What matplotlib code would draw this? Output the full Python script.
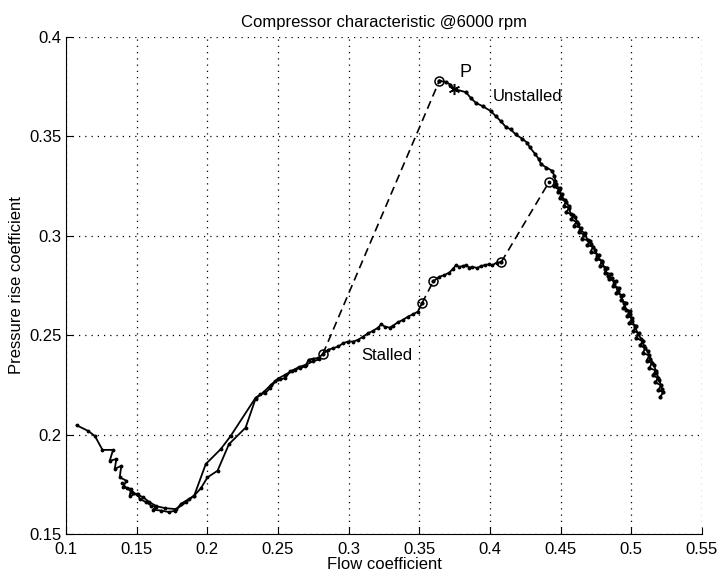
import matplotlib
matplotlib.use("Agg")
import matplotlib.pyplot as plt

plt.rcParams['font.family'] = ['Liberation Sans', 'DejaVu Sans']

# stalled branch, first pass (left end -> minimum -> up to the stall circle)
stalled_x = [0.1075, 0.1157, 0.1204, 0.1258, 0.1333, 0.1309, 0.1356, 0.1345, 0.1391,
             0.1380, 0.1427, 0.1403, 0.1462, 0.1450, 0.1509, 0.1520, 0.1567, 0.1602,
             0.1638, 0.1614, 0.1673, 0.1731, 0.1773, 0.1814, 0.1872, 0.1907,
             0.1989, 0.2095, 0.2165, 0.2341,
             0.2376, 0.2411, 0.2446, 0.2482, 0.2517, 0.2552, 0.2587, 0.2622, 0.2658,
             0.2693, 0.2716, 0.2751, 0.2786, 0.2817,
             0.2857, 0.2892, 0.2927, 0.2962, 0.2997, 0.3032, 0.3068, 0.3103, 0.3138,
             0.3173, 0.3208, 0.3231, 0.3255, 0.3290, 0.3314, 0.3349, 0.3384, 0.3419,
             0.3454, 0.3489, 0.3518]
stalled_y = [0.2047, 0.2018, 0.1993, 0.1923, 0.1923, 0.1868, 0.1877, 0.1827, 0.1843,
             0.1785, 0.1768, 0.1735, 0.1727, 0.1693, 0.1702, 0.1677, 0.1660, 0.1643,
             0.1635, 0.1622, 0.1618, 0.1610, 0.1618, 0.1652, 0.1677, 0.1693,
             0.1852, 0.1927, 0.1993, 0.2185,
             0.2202, 0.2210, 0.2235, 0.2268, 0.2277, 0.2285, 0.2318, 0.2327, 0.2335,
             0.2343, 0.2377, 0.2382, 0.2385, 0.2405,
             0.2427, 0.2435, 0.2443, 0.2460, 0.2468, 0.2468, 0.2477, 0.2493, 0.2510,
             0.2522, 0.2538, 0.2555, 0.2543, 0.2538, 0.2548, 0.2565, 0.2577, 0.2593,
             0.2605, 0.2618, 0.2660]

# stalled branch, second pass (the loop between 0.19 and 0.28)
stalled2_x = [0.2790, 0.2745, 0.2700, 0.2650, 0.2600, 0.2550, 0.2500, 0.2450, 0.2400,
              0.2341, 0.2271, 0.2153, 0.2072, 0.2001, 0.1954, 0.1907, 0.1850, 0.1780,
              0.1700, 0.1640, 0.1590, 0.1545, 0.1500, 0.1465, 0.1430, 0.1398]
stalled2_y = [0.2378, 0.2368, 0.2352, 0.2340, 0.2322, 0.2300, 0.2282, 0.2250, 0.2215,
              0.2180, 0.2035, 0.1952, 0.1818, 0.1785, 0.1730, 0.1693, 0.1660, 0.1625,
              0.1630, 0.1640, 0.1660, 0.1685, 0.1700, 0.1712, 0.1730, 0.1755]

# stalled branch after the jump at phi ~ 0.36
stalled3_x = [0.3600, 0.3642, 0.3677, 0.3712, 0.3736, 0.3759, 0.3783, 0.3806, 0.3829,
              0.3853, 0.3876, 0.3911, 0.3935, 0.3963, 0.3994, 0.4017, 0.4047, 0.4080]
stalled3_y = [0.2772, 0.2794, 0.2802, 0.2815, 0.2832, 0.2852, 0.2843, 0.2848, 0.2852,
              0.2840, 0.2843, 0.2838, 0.2848, 0.2852, 0.2857, 0.2852, 0.2865, 0.2868]

# unstalled branch, from the peak circle down to the choke end
unstalled_x = [0.3642, 0.3690, 0.3720, 0.3747, 0.3829, 0.3864, 0.3900, 0.3947, 0.4005,
               0.4040, 0.4075, 0.4111, 0.4146, 0.4181, 0.4228, 0.4263, 0.4282, 0.4321,
               0.4345, 0.4361, 0.4399, 0.4439, 0.4455, 0.4462,
               0.4470, 0.4452, 0.4495, 0.4478, 0.4512, 0.4492, 0.4538, 0.4522, 0.4560,
               0.4540, 0.4590, 0.4575, 0.4612, 0.4592, 0.4645, 0.4628, 0.4668, 0.4648,
               0.4705, 0.4688, 0.4730, 0.4712, 0.4768, 0.4750, 0.4795, 0.4778, 0.4830,
               0.4812, 0.4858, 0.4840, 0.4890, 0.4872, 0.4912, 0.4895, 0.4942, 0.4925,
               0.4962, 0.4942, 0.4990, 0.4970, 0.5005, 0.4985, 0.5035, 0.5015, 0.5052,
               0.5032, 0.5082, 0.5062, 0.5100, 0.5080, 0.5128, 0.5108, 0.5145, 0.5128,
               0.5172, 0.5152, 0.5188, 0.5170, 0.5210, 0.5192, 0.5225, 0.5205]
unstalled_y = [0.3780, 0.3772, 0.3760, 0.3738, 0.3722, 0.3693, 0.3668, 0.3652, 0.3627,
               0.3602, 0.3577, 0.3548, 0.3535, 0.3510, 0.3488, 0.3468, 0.3444, 0.3410,
               0.3385, 0.3360, 0.3343, 0.3327, 0.3302, 0.3277,
               0.3262, 0.3255, 0.3240, 0.3221, 0.3210, 0.3188, 0.3172, 0.3150, 0.3140,
               0.3118, 0.3105, 0.3082, 0.3070, 0.3050, 0.3040, 0.3018, 0.3005, 0.2985,
               0.2975, 0.2952, 0.2945, 0.2920, 0.2905, 0.2882, 0.2875, 0.2850, 0.2840,
               0.2815, 0.2808, 0.2782, 0.2772, 0.2748, 0.2738, 0.2712, 0.2700, 0.2675,
               0.2662, 0.2636, 0.2622, 0.2598, 0.2585, 0.2560, 0.2548, 0.2522, 0.2510,
               0.2485, 0.2472, 0.2448, 0.2435, 0.2410, 0.2398, 0.2372, 0.2360, 0.2335,
               0.2322, 0.2298, 0.2285, 0.2262, 0.2248, 0.2225, 0.2212, 0.2190]

# second sweep over the choke end (makes the scatter band)
unstalled2_x = [0.4450, 0.4488, 0.4505, 0.4530, 0.4558, 0.4570, 0.4602, 0.4625, 0.4640,
                0.4672, 0.4690, 0.4715, 0.4745, 0.4760, 0.4790, 0.4815, 0.4835, 0.4862,
                0.4880, 0.4905, 0.4930, 0.4948, 0.4965, 0.4992, 0.5008, 0.5025, 0.5050,
                0.5070, 0.5090, 0.5115, 0.5135, 0.5160, 0.5178, 0.5198, 0.5215]
unstalled2_y = [0.3250, 0.3232, 0.3198, 0.3180, 0.3148, 0.3110, 0.3092, 0.3060, 0.3028,
                0.3012, 0.2978, 0.2958, 0.2928, 0.2898, 0.2870, 0.2832, 0.2800, 0.2785,
                0.2758, 0.2722, 0.2695, 0.2660, 0.2628, 0.2605, 0.2570, 0.2540, 0.2505,
                0.2480, 0.2445, 0.2418, 0.2382, 0.2350, 0.2310, 0.2275, 0.2230]

# transition points (circles) and dashed jumps
circle_x = [0.2817, 0.3518, 0.3600, 0.4080, 0.4416, 0.3642]
circle_y = [0.2405, 0.2660, 0.2772, 0.2868, 0.3268, 0.3780]
jumps = [([0.2817, 0.3642], [0.2405, 0.3780]),
         ([0.3518, 0.3600], [0.2660, 0.2772]),
         ([0.4080, 0.4416], [0.2868, 0.3268])]
point_p = (0.3747, 0.3738)

fig = plt.figure(figsize=(7.2, 5.74), dpi=100)
ax = fig.add_axes([0.0917, 0.0697, 0.8833, 0.866])

for jx, jy in jumps:
    ax.plot(jx, jy, color='black', lw=1.2, dashes=(5, 3))

line_kw = dict(color='black', lw=1.3, marker='.', markersize=3.5)
ax.plot(stalled_x, stalled_y, **line_kw)
ax.plot(stalled2_x, stalled2_y, **line_kw)
ax.plot(stalled3_x, stalled3_y, **line_kw)
ax.plot(unstalled_x, unstalled_y, color='black', lw=1.3, marker='.', markersize=4)
ax.plot(unstalled2_x, unstalled2_y, color='black', lw=1.3, marker='.', markersize=4)

ax.plot(circle_x, circle_y, 'o', mfc='none', mec='black', ms=6.5, mew=1.1)
ax.plot(circle_x, circle_y, '.', color='black', ms=3.5)
ax.plot(*point_p, marker=(6, 2, 0), color='black', ms=8, mew=1.1)

ax.text(0.3785, 0.3800, 'P', fontsize=13)
ax.text(0.4017, 0.3700, 'Unstalled', fontsize=12, va='center')
ax.text(0.3090, 0.2400, 'Stalled', fontsize=12, va='center')

ax.set_xlim(0.1, 0.55)
ax.set_ylim(0.15, 0.4)
ax.set_xticks([0.1, 0.15, 0.2, 0.25, 0.3, 0.35, 0.4, 0.45, 0.5, 0.55])
ax.set_xticklabels(['0.1', '0.15', '0.2', '0.25', '0.3', '0.35', '0.4', '0.45', '0.5', '0.55'])
ax.set_yticks([0.15, 0.2, 0.25, 0.3, 0.35, 0.4])
ax.set_yticklabels(['0.15', '0.2', '0.25', '0.3', '0.35', '0.4'])
ax.tick_params(direction='in', length=5, labelsize=12)
ax.tick_params(axis='x', pad=6)
ax.tick_params(axis='y', pad=3)
ax.grid(True, color='black', lw=0.9, linestyle=(0, (1, 4)))
for s in ['top', 'right']:
    ax.spines[s].set_visible(False)

ax.set_title('Compressor characteristic @6000 rpm', fontsize=12, pad=7)
ax.set_xlabel('Flow coefficient', fontsize=12, labelpad=0)
ax.set_ylabel('Pressure rise coefficient', fontsize=12, labelpad=4)

fig.savefig('out.png', dpi=100)
